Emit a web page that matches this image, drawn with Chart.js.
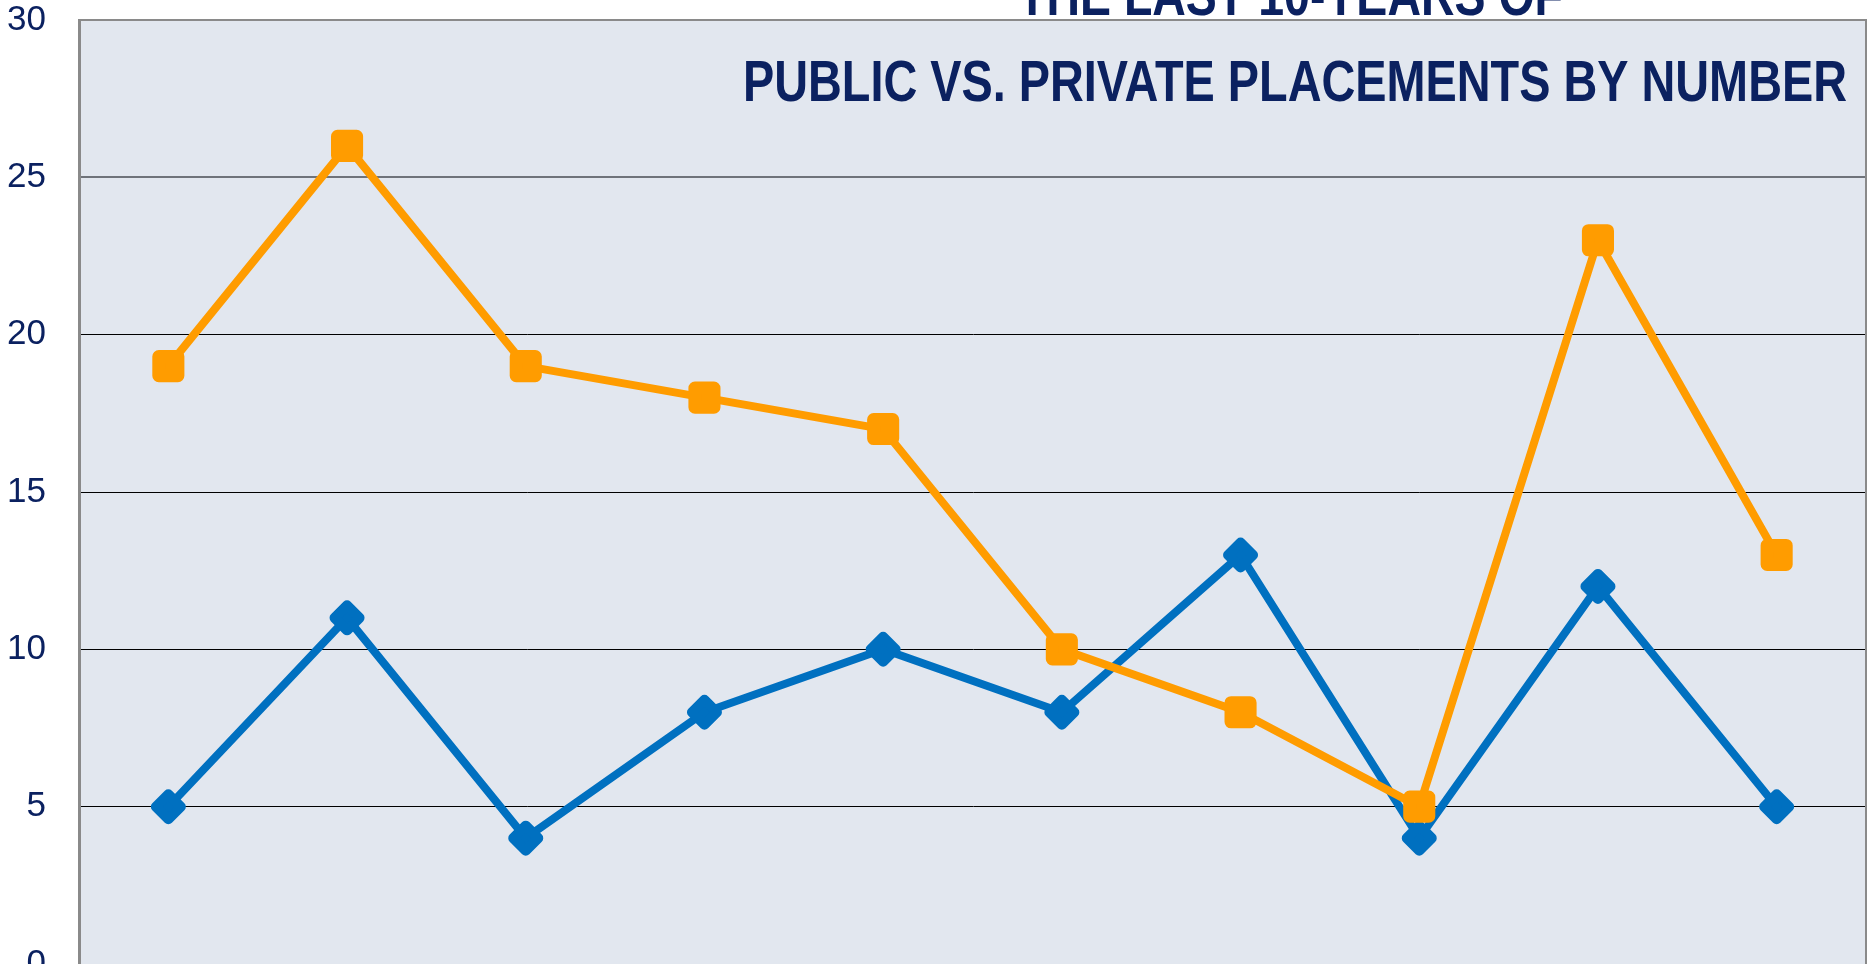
<!DOCTYPE html>
<html>
<head>
<meta charset="utf-8">
<script src="https://cdn.jsdelivr.net/npm/chart.js@4.4.1/dist/chart.umd.min.js"></script>
<style>
    html, body { margin: 0; padding: 0; background: #ffffff; overflow: hidden; }
    #wrap { position: relative; width: 1869px; height: 1000px; }
</style>
</head>
<body>
<div id="wrap"><canvas id="placementChart"></canvas></div>
<script>
// Data (x labels are cut off in the original)
const periods = ['1', '2', '3', '4', '5', '6', '7', '8', '9', '10'];
const privateCounts = [19, 26, 19, 18, 17, 10, 8, 5, 23, 13];
const publicCounts = [5, 11, 4, 8, 10, 8, 13, 4, 12, 5];
const yTicks = [0, 5, 10, 15, 20, 25, 30];
const titleLines = ['THE LAST 10-YEARS OF', 'PUBLIC VS. PRIVATE PLACEMENTS BY NUMBER'];

const navy = '#0b2160';
const orange = '#FF9C00';
const blue = '#0070C0';

// Plot background + frame
const plotFrame = {
    id: 'plotFrame',
    beforeDraw: function(chart) {
        const a = chart.chartArea;
        const ctx = chart.ctx;
        ctx.save();
        ctx.fillStyle = '#E2E7EF';
        ctx.fillRect(a.left, a.top, a.right - a.left, a.bottom - a.top);
        ctx.restore();
    },
    beforeDatasetsDraw: function(chart) {
        chart.ctx.lineJoin = 'round'; // rounded marker corners
    },
    afterDatasetsDraw: function(chart) {
        chart.ctx.lineJoin = 'miter';
    },
    afterDraw: function(chart) {
        const a = chart.chartArea;
        const ctx = chart.ctx;
        ctx.save();
        ctx.strokeStyle = '#8a8a8a';
        ctx.lineWidth = 2;
        ctx.beginPath();
        ctx.moveTo(a.left, a.top);
        ctx.lineTo(a.right, a.top);
        ctx.lineTo(a.right, a.bottom);
        ctx.stroke();
        ctx.restore();
    }
};

// Two-line title, condensed bold, overlapping the top of the plot
const condensedTitle = {
    id: 'condensedTitle',
    afterDraw: function(chart) {
        const ctx = chart.ctx;
        ctx.save();
        ctx.fillStyle = navy;
        ctx.font = 'bold 57px "Liberation Sans", Arial, sans-serif';
        ctx.textAlign = 'left';
        ctx.textBaseline = 'alphabetic';
        ctx.fillText(titleLines[0], 1018, 15, 545);
        ctx.fillText(titleLines[1], 743, 101, 1104);
        ctx.restore();
    }
};

const ctx = document.getElementById('placementChart').getContext('2d');

new Chart(ctx, {
    type: 'line',
    data: {
        labels: periods,
        datasets: [{
            label: 'Private',
            data: privateCounts,
            borderColor: orange,
            backgroundColor: orange,
            borderWidth: 8,
            pointStyle: 'rect',
            pointRadius: 13.5,
            pointBorderWidth: 13,
            pointBackgroundColor: orange,
            pointBorderColor: orange,
            tension: 0
        }, {
            label: 'Public',
            data: publicCounts,
            borderColor: blue,
            backgroundColor: blue,
            borderWidth: 8,
            pointStyle: 'rectRot',
            pointRadius: 12.5,
            pointBorderWidth: 10,
            pointBackgroundColor: blue,
            pointBorderColor: blue,
            tension: 0
        }]
    },
    options: {
        responsive: true,
        maintainAspectRatio: false,
        animation: false,
        events: [],
        layout: {
            autoPadding: false,
            padding: { top: 20, right: 3, bottom: 36, left: 0 }
        },
        plugins: {
            legend: { display: false },
            title: { display: false },
            tooltip: { enabled: false }
        },
        scales: {
            x: {
                type: 'category',
                offset: true,
                grid: { display: false, drawTicks: false },
                border: { display: false },
                ticks: { display: false }
            },
            y: {
                min: 0,
                max: 30,
                afterBuildTicks: function(scale) {
                    scale.ticks = yTicks.map(v => ({ value: v }));
                },
                afterFit: function(scale) {
                    scale.width = 79;
                    // labels may hang over the top/bottom edge, like the original
                    scale.paddingTop = 0;
                    scale.paddingBottom = 0;
                },
                grid: {
                    drawTicks: false,
                    color: function(c) {
                        if (c.tick && c.tick.value === 25) return '#6f737a';
                        if (c.tick && (c.tick.value === 30 || c.tick.value === 0)) return '#8a8a8a';
                        return '#000000';
                    },
                    lineWidth: function(c) {
                        return (c.tick && c.tick.value === 25) ? 2 : 1;
                    }
                },
                border: { display: true, color: '#8a8a8a', width: 3 },
                ticks: {
                    padding: 33,
                    color: navy,
                    font: { family: '"Liberation Sans", Arial, sans-serif', size: 35 }
                }
            }
        }
    },
    plugins: [plotFrame, condensedTitle]
});
</script>
</body>
</html>
